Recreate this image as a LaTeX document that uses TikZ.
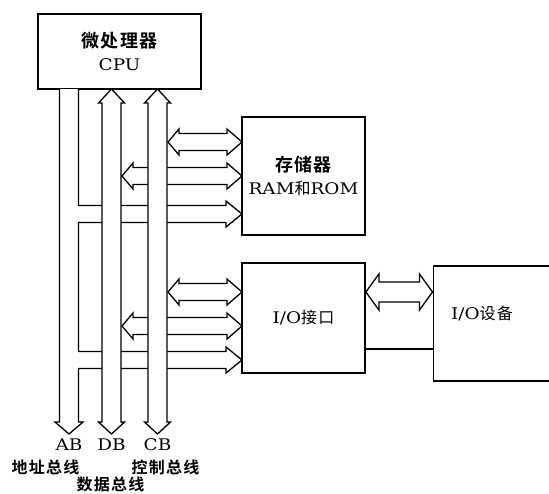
\documentclass[tikz,border=0pt]{standalone}
\usepackage{fontspec}
\usetikzlibrary{calc}
\setmainfont{DejaVu Serif}[FakeStretch=1.15]
\newfontfamily\cjk{Noto Sans CJK SC}[BoldFont={* Bold}, LetterSpace=8]
\newcommand\zh[1]{{\cjk\bfseries #1}}
\newcommand\zhr[1]{{\cjk #1}}
% horizontal double arrow: left tip x, right tip x, centre y
\newcommand\wideDbl[3]{%
  \draw[busline] (#1,#3) -- (#1+11,#3-13) -- (#1+11,#3-8.5) -- (#2-15,#3-8.5) -- (#2-15,#3-13)
    -- (#2,#3) -- (#2-15,#3+13) -- (#2-15,#3+8.5) -- (#1+11,#3+8.5) -- (#1+11,#3+13) -- cycle;}
% vertical double arrow: centre x, top tip y, bottom tip y
\newcommand\wideVert[3]{%
  \draw[busline] (#1,#2) -- (#1+13,#2+14) -- (#1+9.5,#2+14) -- (#1+9.5,#3-12) -- (#1+13,#3-12)
    -- (#1,#3) -- (#1-13,#3-12) -- (#1-9.5,#3-12) -- (#1-9.5,#2+14) -- (#1-13,#2+14) -- cycle;}
\tikzset{
  box/.style={draw, line width=1.8pt, fill=white, inner sep=0pt, align=center},
  busline/.style={draw, line width=1.3pt, fill=white, line join=miter},
  lat/.style={font=\fontsize{16}{21}\selectfont},
  lbl/.style={font=\fontsize{16}{18}\selectfont, inner sep=0pt},
}
\begin{document}
\begin{tikzpicture}[x=1pt, y=-1pt]
\useasboundingbox (0,0) rectangle (549,493);
\clip (0,0) rectangle (549,493);

% boxes
\node[box, minimum width=163pt, minimum height=75pt, lat] (cpu) at (119.5,51.5)
  {{\fontsize{18}{20}\selectfont\zh{微处理器}}\\[2pt]CPU};
\node[box, minimum width=123pt, minimum height=118pt, lat] (mem) at (303.5,176)
  {{\fontsize{18}{20}\selectfont\zh{存储器}}\\[2pt]RAM\zhr{和}ROM};
\node[box, minimum width=123pt, minimum height=110pt, lat] (io) at (303.5,318)
  {I/O\zhr{接口}};
\node[box, minimum width=140pt, minimum height=115pt, anchor=north west] (dev) at (432.5,265)
  {};
\node[lat] (devtxt) at (482,313) {I/O\zhr{设备}};

% address bus with two branches
\draw[busline] (59.5,89) -- (59.5,422) -- (55,422) -- (69,434) -- (83,422) -- (78.5,422)
  -- (78.5,368.5) -- (226,368.5) -- (226,373) -- (242,360) -- (226,347) -- (226,351.5)
  -- (78.5,351.5) -- (78.5,222.5) -- (226,222.5) -- (226,227) -- (242,214) -- (226,201)
  -- (226,205.5) -- (78.5,205.5) -- (78.5,89);

% data bus branches (pass under CB)
\wideDbl{122}{242}{176}
\wideDbl{122}{242}{326}
% data bus
\wideVert{111.5}{89}{434}
% control bus
\wideVert{157.5}{89}{434}
% control bus branches
\wideDbl{168}{242}{142}
\wideDbl{168}{242}{292}

% I/O interface <-> device
\draw[busline] (io.east |- 0,292) -- ++(13,-18) -- ++(0,8) -- ($(dev.west |- 0,282)+(-13,0)$)
  -- ++(0,-8) -- (dev.west |- 0,292) -- ++(-13,18) -- ++(0,-8) -- ($(io.east |- 0,302)+(13,0)$)
  -- ++(0,8) -- cycle;
\draw[line width=1.5pt] (io.east |- 0,349) -- (dev.west |- 0,349);

% bus labels
\node[lat, inner sep=0pt] (ab) at (69,445) {AB};
\node[lat, inner sep=0pt] (db) at (111.5,445) {DB};
\node[lat, inner sep=0pt] (cb) at (157.5,445) {CB};
\node[lbl] (abz) at (45.5,467) {\zh{地址总线}};
\node[lbl] (cbz) at (165.5,467) {\zh{控制总线}};
\node[lbl] (dbz) at (110.5,484.5) {\zh{数据总线}};
\end{tikzpicture}
\end{document}
